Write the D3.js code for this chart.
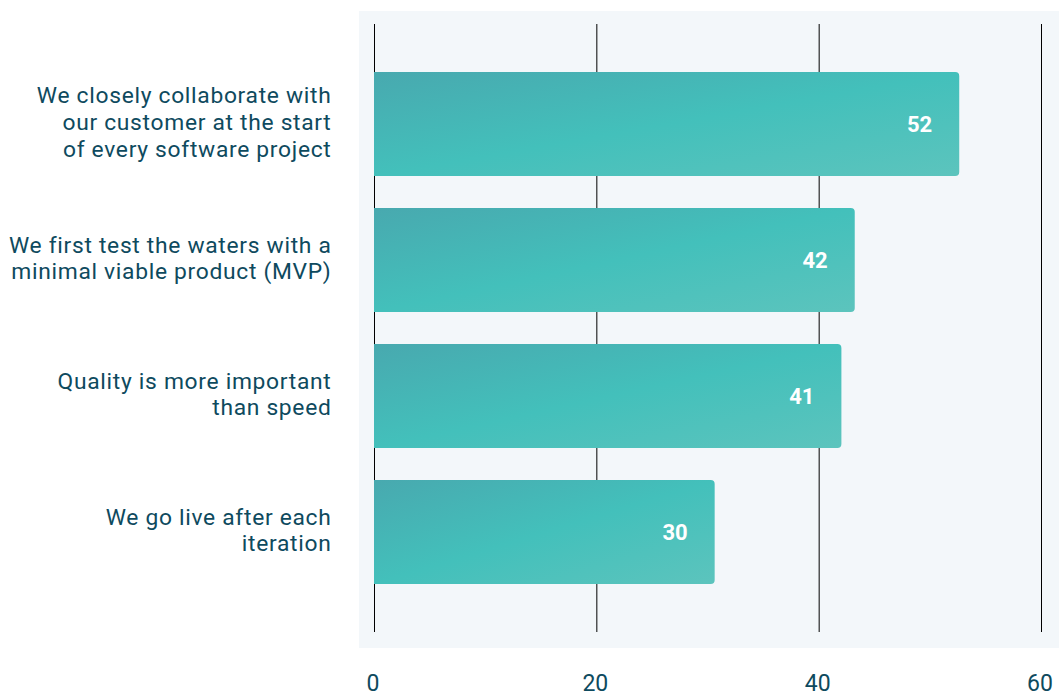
<!DOCTYPE html>
<html><head><meta charset="utf-8">
<script src="https://cdn.jsdelivr.net/npm/d3@7"></script>
<style>body{margin:0;background:#fff}svg{display:block}text{font-family:Roboto,"Open Sans",sans-serif}</style>
</head><body>
<svg id="c" width="1059" height="697"></svg>
<script>
const categories = [
  ["We closely collaborate with","our customer at the start","of every software project"],
  ["We first test the waters with a","minimal viable product (MVP)"],
  ["Quality is more important","than speed"],
  ["We go live after each","iteration"]
];
const values = [52.6, 43.2, 42.0, 30.6];
const valueLabels = ["52", "42", "41", "30"];
const tickValues = [0, 20, 40, 60];

(function(){
const svg = d3.select("#c");
const W = 1059, H = 697;
const mLeft = 374.5, mRight = 1041.5, mTop = 24, mBottom = 632;
const x = d3.scaleLinear().domain([0, 60]).range([mLeft, mRight]);
const y = d3.scaleBand().domain(d3.range(categories.length)).range([mTop, mBottom]).paddingInner(0.235).paddingOuter(0.353);

const defs = svg.append("defs");
const g = defs.append("linearGradient").attr("id","bg").attr("x1","0").attr("y1","0").attr("x2","1").attr("y2","1");
g.append("stop").attr("offset","0").attr("stop-color","#48a9af");
g.append("stop").attr("offset","0.5").attr("stop-color","#43c0bb");
g.append("stop").attr("offset","1").attr("stop-color","#5cc4bd");

svg.append("rect").attr("x",359).attr("y",11).attr("width",W-359).attr("height",648-11).attr("fill","#f3f7fa");

svg.append("g").selectAll("line").data(tickValues).join("line")
  .attr("x1",d=>x(d)).attr("x2",d=>x(d)).attr("y1",mTop).attr("y2",mBottom)
  .attr("stroke","#000").attr("stroke-width",1);

const r = 4;
svg.append("g").selectAll("path").data(values).join("path")
  .attr("fill","url(#bg)")
  .attr("d",(d,i)=>{
    const x0 = x(0)-0.5, x1 = x(d), y0 = y(i), y1 = y(i)+y.bandwidth();
    return `M${x0},${y0}H${x1-r}Q${x1},${y0} ${x1},${y0+r}V${y1-r}Q${x1},${y1} ${x1-r},${y1}H${x0}Z`;
  });

svg.append("g").selectAll("text").data(values).join("text")
  .attr("x",d=>x(d)-27).attr("y",(d,i)=>y(i)+y.bandwidth()/2)
  .attr("dy","0.35em").attr("text-anchor","end")
  .attr("fill","#fff").attr("font-weight","bold").attr("font-size",22)
  .text((d,i)=>valueLabels[i]);

const lh = 26.8;
const lab = svg.append("g").selectAll("text").data(categories).join("text")
  .attr("text-anchor","end").attr("fill","#0e4a5e").attr("font-size",22.8)
  .attr("letter-spacing","0.7px");
lab.each(function(lines,i){
  const c = y(i)+y.bandwidth()/2 - 2;
  const n = lines.length;
  d3.select(this).selectAll("tspan").data(lines).join("tspan")
    .attr("x",331.5).attr("y",(l,j)=>c + (j-(n-1)/2)*lh).attr("dy","0.35em").text(l=>l);
});

const ax = svg.append("g").attr("transform",`translate(0,${mBottom})`)
  .call(d3.axisBottom(x).tickValues(tickValues).tickSize(0).tickPadding(43));
ax.select(".domain").remove();
ax.selectAll("text").attr("font-size",23).attr("fill","#0e4a5e").attr("dx","-2").style("font-family",'Roboto,"Open Sans",sans-serif');
})();
</script>
</body></html>
